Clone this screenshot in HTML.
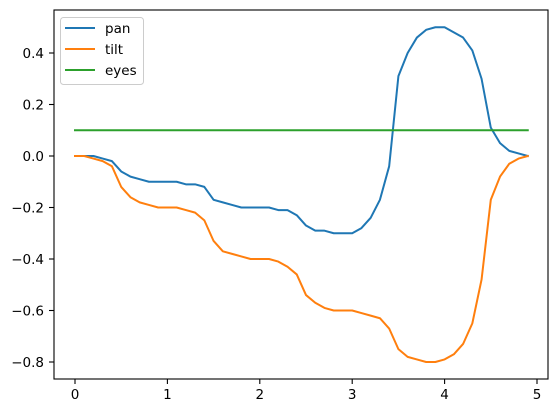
<!DOCTYPE html>
<html><head><meta charset="utf-8"><style>
body{margin:0;background:#fff;}
svg{display:block;font-family:"DejaVu Sans","Liberation Sans",sans-serif;}
</style></head><body>
<svg id="chart" width="559" height="413" viewBox="0 0 559 413" xmlns="http://www.w3.org/2000/svg">
<rect width="559" height="413" fill="#fff"/>
<g id="plot"></g>
</svg>
<script>
const xTicks=[0,1,2,3,4,5];
const yTicks=[0.4,0.2,0.0,-0.2,-0.4,-0.6,-0.8];
const yTickLabels=["0.4","0.2","0.0","−0.2","−0.4","−0.6","−0.8"];
const seriesNames=["pan","tilt","eyes"];
const seriesColors=["#1f77b4","#ff7f0e","#2ca02c"];
const pan=[0,0,0,-0.01,-0.02,-0.06,-0.08,-0.09,-0.1,-0.1,-0.1,-0.1,-0.11,-0.11,-0.12,-0.17,-0.18,-0.19,-0.2,-0.2,-0.2,-0.2,-0.21,-0.21,-0.23,-0.27,-0.29,-0.29,-0.3,-0.3,-0.3,-0.28,-0.24,-0.17,-0.04,0.31,0.4,0.46,0.49,0.5,0.5,0.48,0.46,0.41,0.3,0.11,0.05,0.02,0.01,0.0];
const tilt=[0,0,-0.01,-0.02,-0.04,-0.12,-0.16,-0.18,-0.19,-0.2,-0.2,-0.2,-0.21,-0.22,-0.25,-0.33,-0.37,-0.38,-0.39,-0.4,-0.4,-0.4,-0.41,-0.43,-0.46,-0.54,-0.57,-0.59,-0.6,-0.6,-0.6,-0.61,-0.62,-0.63,-0.67,-0.75,-0.78,-0.79,-0.8,-0.8,-0.79,-0.77,-0.73,-0.65,-0.48,-0.17,-0.08,-0.03,-0.01,0];
const eyes=[0.1,0.1,0.1,0.1,0.1,0.1,0.1,0.1,0.1,0.1,0.1,0.1,0.1,0.1,0.1,0.1,0.1,0.1,0.1,0.1,0.1,0.1,0.1,0.1,0.1,0.1,0.1,0.1,0.1,0.1,0.1,0.1,0.1,0.1,0.1,0.1,0.1,0.1,0.1,0.1,0.1,0.1,0.1,0.1,0.1,0.1,0.1,0.1,0.1,0.1];
const xStep=0.1;

const NS="http://www.w3.org/2000/svg";
const g=document.getElementById('plot');
const L=54,R=548,T=10,B=379;
function xs(v){return 75+v*92.4;}
function ys(v){return 156-v*257.5;}
function mk(tag,attrs){const e=document.createElementNS(NS,tag);for(const k in attrs)e.setAttribute(k,attrs[k]);g.appendChild(e);return e;}

[pan,tilt,eyes].forEach((arr,si)=>{
  const pts=arr.map((v,i)=>xs(i*xStep).toFixed(2)+","+ys(v).toFixed(2)).join(" ");
  const p=mk('polyline',{points:pts,fill:'none',stroke:seriesColors[si],'stroke-width':2,'stroke-linejoin':'round','stroke-linecap':'square'});
  
  
});

const frame=mk('rect',{x:L,y:T,width:R-L,height:B-T,fill:'none',stroke:'#000','stroke-width':1.1});



xTicks.forEach(t=>{
  const x=xs(t);
  const tk=mk('line',{x1:x,x2:x,y1:B,y2:B+5,stroke:'#000','stroke-width':1.1});
  
  
  const tx=mk('text',{x:x,y:B+20,'text-anchor':'middle','font-size':13.5,fill:'#000'});
  tx.textContent=String(t);
  
  
});
yTicks.forEach((t,i)=>{
  const y=ys(t);
  const tk=mk('line',{x1:L-5,x2:L,y1:y,y2:y,stroke:'#000','stroke-width':1.1});
  
  
  const tx=mk('text',{x:L-10,y:y+5,'text-anchor':'end','font-size':13.5,fill:'#000'});
  tx.textContent=yTickLabels[i];
  
  
});

const lg=mk('rect',{x:60.5,y:17.5,width:83,height:67,rx:3,fill:'#fff','fill-opacity':0.8,stroke:'#ccc','stroke-width':1});


seriesNames.forEach((n,i)=>{
  const y=28+i*21;
  const ln=mk('line',{x1:65,x2:95,y1:y,y2:y,stroke:seriesColors[i],'stroke-width':2});
  
  
  const tx=mk('text',{x:105,y:y+5,'font-size':13.5,fill:'#000'});
  tx.textContent=n;
  
  
});
</script>
</body></html>
